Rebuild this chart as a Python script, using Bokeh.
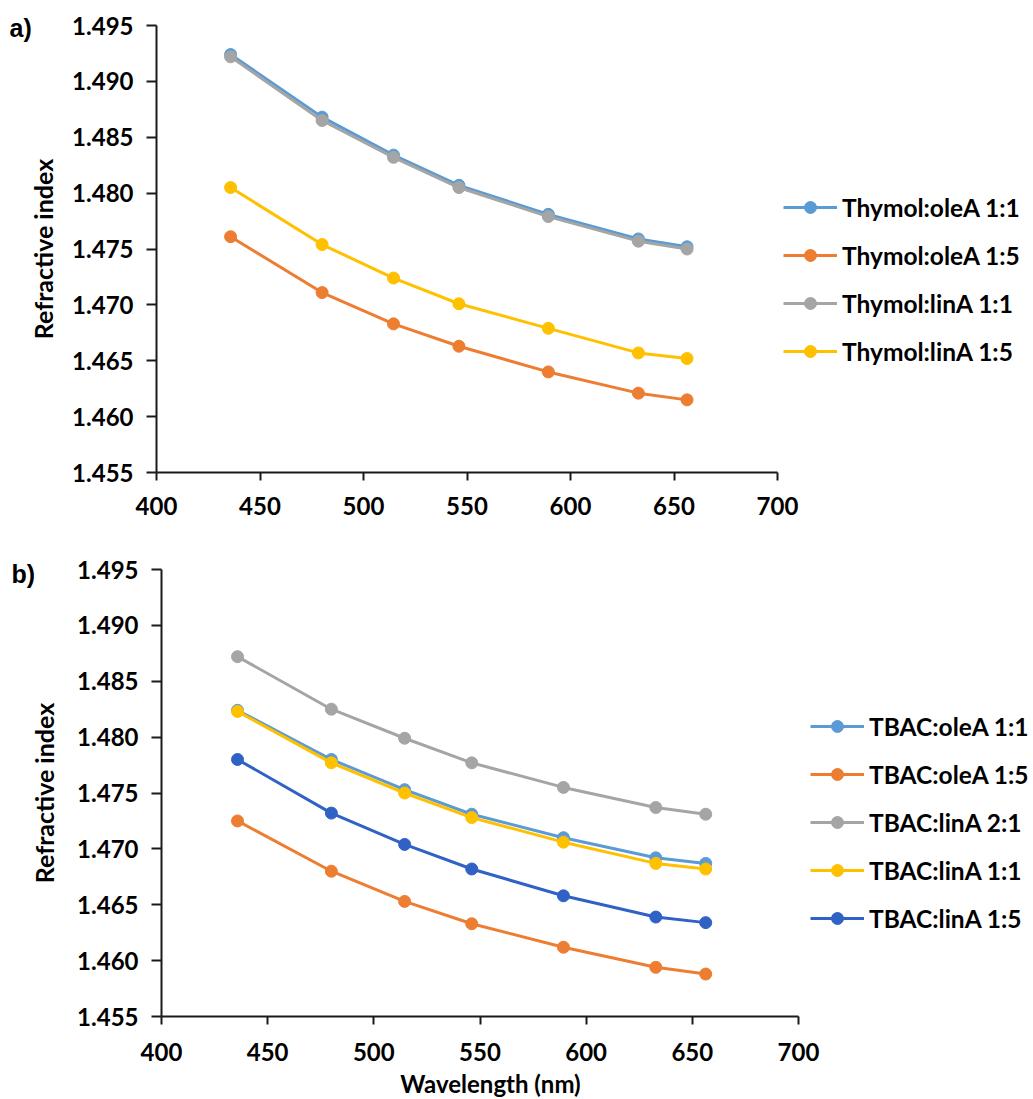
import math
from bokeh.plotting import figure
from bokeh.layouts import column
from bokeh.models import Legend, LegendItem, FixedTicker, PrintfTickFormatter, Range1d, Label
from bokeh.embed import file_html
from bokeh.resources import INLINE

# ---------------- data ----------------
wavelength = [435.8, 480.0, 514.5, 546.1, 589.3, 632.8, 656.3]

# panel a)
thymol_oleA_11 = [1.4924, 1.4868, 1.4834, 1.4807, 1.4781, 1.4759, 1.4752]
thymol_oleA_15 = [1.4761, 1.4711, 1.4683, 1.4663, 1.4640, 1.4621, 1.4615]
thymol_linA_11 = [1.4922, 1.4865, 1.4832, 1.4805, 1.4779, 1.4757, 1.4750]
thymol_linA_15 = [1.4805, 1.4754, 1.4724, 1.4701, 1.4679, 1.4657, 1.4652]
names_a = ["Thymol:oleA 1:1", "Thymol:oleA 1:5", "Thymol:linA 1:1", "Thymol:linA 1:5"]

# panel b)
tbac_oleA_11 = [1.4824, 1.4780, 1.4753, 1.4731, 1.4710, 1.4692, 1.4687]
tbac_oleA_15 = [1.4725, 1.4680, 1.4653, 1.4633, 1.4612, 1.4594, 1.4588]
tbac_linA_21 = [1.4872, 1.4825, 1.4799, 1.4777, 1.4755, 1.4737, 1.4731]
tbac_linA_11 = [1.4823, 1.4777, 1.4750, 1.4728, 1.4706, 1.4687, 1.4682]
tbac_linA_15 = [1.4780, 1.4732, 1.4704, 1.4682, 1.4658, 1.4639, 1.4634]
names_b = ["TBAC:oleA 1:1", "TBAC:oleA 1:5", "TBAC:linA 2:1", "TBAC:linA 1:1", "TBAC:linA 1:5"]

x_ticks = [400, 450, 500, 550, 600, 650, 700]
y_ticks = [1.455, 1.460, 1.465, 1.470, 1.475, 1.480, 1.485, 1.490, 1.495]
X_MIN, X_MAX = 400, 700
Y_MIN, Y_MAX = 1.455, 1.495
y_title = "Refractive index"
x_title = "Wavelength (nm)"

colors_a = ["#5B9BD5", "#ED7D31", "#A5A5A5", "#FFC000"]
colors_b = ["#5B9BD5", "#ED7D31", "#A5A5A5", "#FFC000", "#2F62C4"]

FONT = "Lato"
AXIS_COLOR = "#1a1a1a"
PAGE_W = 1033


def bold_label(**kw):
    return Label(text_font=FONT, text_font_style="bold", text_color="black", **kw)


def make_panel(series, names, colors, fig_h, axis_px, tag, tag_pos, legend_top,
               ytitle_x, xtitle_pos, x_standoff):
    # axis_px: (px of x=400, px of x=700, px of y=1.495, px of y=1.455) in canvas coords
    xl, xr, yt, yb = axis_px
    kx = (xr - xl) / (X_MAX - X_MIN)
    ky = (yb - yt) / (Y_MAX - Y_MIN)
    x0 = X_MIN - xl / kx
    x1 = x0 + PAGE_W / kx
    y1 = Y_MAX + yt / ky
    y0 = Y_MIN - (fig_h - yb) / ky

    p = figure(width=PAGE_W, height=fig_h, output_backend="svg", toolbar_location=None,
               x_range=Range1d(x0, x1), y_range=Range1d(y0, y1),
               min_border_left=0, min_border_right=0, min_border_top=0, min_border_bottom=0)
    p.outline_line_color = None
    p.xgrid.visible = False
    p.ygrid.visible = False
    p.background_fill_color = "white"
    p.border_fill_color = "white"

    items = []
    for ys, name, c in zip(series, names, colors):
        ln = p.line(wavelength, ys, line_color=c, line_width=3)
        sc = p.scatter(wavelength, ys, size=12, fill_color=c, line_color=c)
        items.append(LegendItem(label=name, renderers=[ln, sc]))

    for ax in (p.xaxis[0], p.yaxis[0]):
        ax.axis_line_color = AXIS_COLOR
        ax.axis_line_width = 2
        ax.major_tick_line_color = AXIS_COLOR
        ax.major_tick_line_width = 2
        ax.minor_tick_line_color = None
        ax.major_tick_in = 0
        ax.major_label_text_font = FONT
        ax.major_label_text_font_style = "bold"
        ax.major_label_text_font_size = "24px"
        ax.major_label_text_color = "black"

    p.xaxis.bounds = (X_MIN, X_MAX)
    p.yaxis.bounds = (Y_MIN, Y_MAX)
    p.yaxis.fixed_location = X_MIN
    p.xaxis.fixed_location = Y_MIN
    p.xaxis.ticker = FixedTicker(ticks=x_ticks)
    p.yaxis.ticker = FixedTicker(ticks=y_ticks)
    p.yaxis.formatter = PrintfTickFormatter(format="%.3f")
    p.xaxis.major_tick_out = 8
    p.yaxis.major_tick_out = 10
    p.xaxis.major_label_standoff = x_standoff
    p.yaxis.major_label_standoff = 13

    # axis titles
    p.add_layout(bold_label(x=ytitle_x, y=(Y_MIN + Y_MAX) / 2, x_units="screen", y_units="data",
                            text=y_title, angle=math.pi / 2, text_font_size="25px",
                            text_align="center", text_baseline="middle"))
    if xtitle_pos is not None:
        p.add_layout(bold_label(x=xtitle_pos[0], y=fig_h - xtitle_pos[1],
                                x_units="screen", y_units="screen",
                                text=x_title, text_font_size="24px",
                                text_align="center", text_baseline="middle"))

    # legend: 30px glyph rows + 18px spacing
    n = len(items)
    leg_h = n * 30 + (n - 1) * 18
    legend = Legend(items=items, location=(legend_top[0], fig_h - legend_top[1] - leg_h),
                    padding=0, margin=0,
                    glyph_width=54, glyph_height=30, spacing=18, label_standoff=5,
                    label_text_font=FONT, label_text_font_style="bold",
                    label_text_font_size="24.5px", label_text_color="black",
                    border_line_alpha=0, background_fill_alpha=0)
    p.add_layout(legend)

    p.add_layout(Label(x=tag_pos[0], y=fig_h - tag_pos[1], x_units="screen", y_units="screen",
                       text=tag, text_font="Liberation Sans", text_font_style="bold",
                       text_font_size="25px", text_color="black",
                       text_baseline="top", text_align="left"))
    return p


# panel a) occupies page rows 0..540, panel b) rows 540..1099
pa = make_panel([thymol_oleA_11, thymol_oleA_15, thymol_linA_11, thymol_linA_15],
                names_a, colors_a, fig_h=540, axis_px=(156, 777, 25, 472),
                tag="a)", tag_pos=(9, 13), legend_top=(783, 192),
                ytitle_x=42, xtitle_pos=None, x_standoff=16)

pb = make_panel([tbac_oleA_11, tbac_oleA_15, tbac_linA_21, tbac_linA_11, tbac_linA_15],
                names_b, colors_b, fig_h=559, axis_px=(161, 798, 29, 476),
                tag="b)", tag_pos=(11, 19), legend_top=(810, 171),
                ytitle_x=43, xtitle_pos=(490, 543), x_standoff=18)

layout = column(pa, pb, spacing=0)
open("out.html", "w").write(file_html(layout, INLINE))
